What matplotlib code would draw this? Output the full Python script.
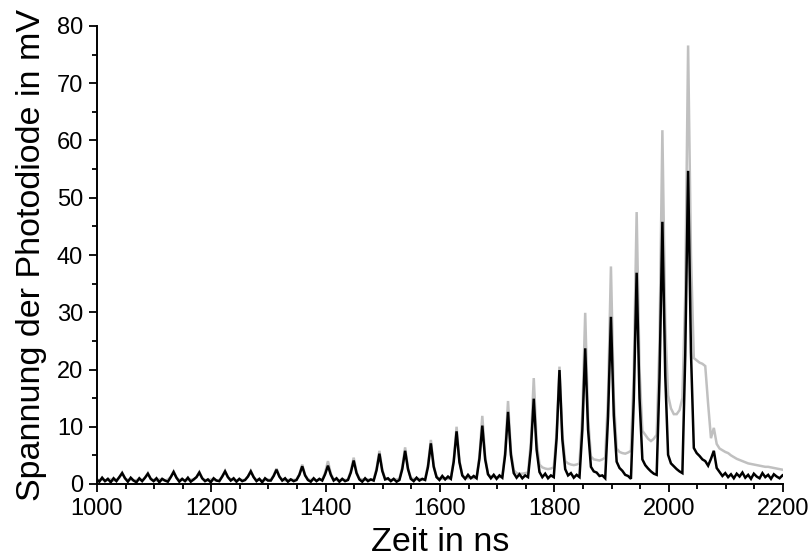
import numpy as np
import matplotlib
matplotlib.use("Agg")
import matplotlib.pyplot as plt
from matplotlib.ticker import MultipleLocator

plt.rcParams["font.family"] = ["Liberation Sans", "DejaVu Sans"]

# Sampling of both traces: one value every 5 ns starting at 999 ns
t_start_ns = 999
t_step_ns = 5

# Photodiode voltage (mV), one row per pulse period (9 samples = 45 ns)
black_mV = [
    0.8, 0.4, 1.1, 0.5, 0.9, 0.3, 1.0, 0.5, 1.2,
    1.9, 1.0, 0.4, 1.1, 0.6, 0.3, 1.0, 0.5, 1.1,
    1.8, 0.9, 0.5, 1.0, 0.3, 0.9, 0.6, 0.4, 1.2,
    2.1, 1.1, 0.4, 0.9, 0.5, 1.1, 0.4, 0.8, 1.2,
    2.0, 1.0, 0.5, 0.8, 0.3, 1.0, 0.6, 0.5, 1.3,
    2.2, 1.2, 0.6, 1.0, 0.4, 0.9, 0.5, 0.7, 1.3,
    2.2, 1.2, 0.5, 0.9, 0.3, 1.0, 0.6, 0.6, 1.4,
    2.5, 1.3, 0.6, 1.0, 0.4, 0.8, 0.5, 0.7, 1.6,
    3.1, 1.5, 0.7, 0.4, 1.0, 0.5, 0.9, 0.6, 1.7,
    3.2, 1.6, 0.6, 1.0, 0.4, 0.9, 0.5, 0.7, 2.0,
    4.1, 1.9, 0.8, 0.4, 1.0, 0.5, 0.8, 0.6, 2.4,
    5.3, 2.3, 0.8, 1.0, 0.5, 0.9, 0.4, 0.7, 2.6,
    5.8, 2.6, 0.9, 0.5, 1.1, 0.6, 0.9, 0.7, 3.0,
    7.1, 3.0, 1.2, 0.7, 1.4, 0.8, 1.3, 0.9, 3.9,
    9.2, 3.8, 1.5, 0.9, 1.6, 1.0, 1.4, 1.0, 4.4,
    10.2, 4.3, 1.7, 1.0, 1.6, 0.9, 1.5, 1.1, 5.1,
    12.6, 5.1, 1.9, 1.1, 1.7, 1.0, 1.5, 1.2, 6.1,
    14.9, 6.0, 2.1, 1.2, 1.8, 1.0, 1.5, 1.2, 8.0,
    19.9, 7.8, 2.6, 1.5, 1.9, 1.1, 1.6, 1.2, 9.5,
    23.7, 9.5, 3.0, 2.2, 2.0, 1.4, 1.5, 1.0, 11.8,
    29.2, 12.0, 3.9, 2.8, 2.3, 1.6, 1.4, 0.9, 14.8,
    36.9, 15.0, 4.3, 3.3, 2.7, 2.2, 1.8, 1.6, 18.5,
    45.8, 19.0, 5.1, 3.6, 3.1, 2.6, 2.2, 1.9, 22.5,
    54.7, 23.0, 6.3, 5.4, 4.9, 4.3, 4.0, 3.2, 4.4,
    5.8, 2.8, 2.1, 1.4, 1.9, 1.2, 1.7, 1.0, 1.8,
    1.3, 2.0, 1.1, 1.6, 0.9, 1.8, 1.3, 1.0, 1.9,
    1.2, 1.6, 0.9, 1.7, 1.3, 1.0, 1.5,
]

gray_mV = [
    0.8, 0.7, 0.8, 0.6, 0.7, 0.8, 0.6, 0.7, 1.1,
    2.0, 1.0, 0.7, 0.8, 0.6, 0.7, 0.8, 0.6, 1.1,
    1.9, 0.9, 0.7, 0.6, 0.8, 0.7, 0.6, 0.8, 1.2,
    2.2, 1.1, 0.7, 0.8, 0.6, 0.7, 0.8, 0.7, 1.2,
    2.1, 1.0, 0.7, 0.6, 0.8, 0.7, 0.6, 0.7, 1.3,
    2.3, 1.2, 0.8, 0.7, 0.6, 0.8, 0.7, 0.7, 1.3,
    2.3, 1.2, 0.7, 0.8, 0.6, 0.7, 0.8, 0.7, 1.5,
    2.7, 1.3, 0.8, 0.6, 0.7, 0.8, 0.7, 0.8, 1.7,
    3.4, 1.6, 0.8, 0.7, 0.8, 0.6, 0.8, 0.7, 2.0,
    4.0, 1.8, 0.8, 0.7, 0.6, 0.8, 0.7, 0.8, 2.3,
    4.6, 2.1, 0.9, 0.8, 0.7, 0.8, 0.7, 0.8, 2.7,
    5.8, 2.5, 0.9, 0.8, 0.7, 0.8, 0.8, 0.9, 3.0,
    6.4, 2.8, 1.0, 0.9, 0.8, 0.9, 0.8, 0.9, 3.4,
    7.7, 3.3, 1.2, 1.0, 0.9, 1.0, 0.9, 1.0, 4.2,
    10.0, 4.1, 1.5, 1.1, 1.0, 1.1, 1.0, 1.1, 4.9,
    11.9, 4.8, 1.7, 1.3, 1.2, 1.2, 1.2, 1.3, 5.9,
    14.5, 5.8, 2.4, 1.9, 1.8, 1.8, 1.9, 2.0, 7.4,
    18.5, 7.5, 3.4, 2.9, 2.7, 2.6, 2.7, 2.9, 9.0,
    20.5, 8.6, 4.0, 3.6, 3.4, 3.3, 3.4, 3.6, 12.2,
    29.9, 11.6, 4.8, 4.3, 4.2, 4.1, 4.3, 4.6, 15.5,
    38.0, 15.0, 6.2, 5.6, 5.4, 5.3, 5.5, 5.8, 19.5,
    47.5, 20.0, 9.3, 8.6, 7.9, 7.5, 7.9, 8.6, 25.0,
    61.8, 28.0, 15.5, 13.2, 12.2, 12.2, 12.9, 15.0, 33.0,
    76.6, 40.0, 22.0, 21.6, 21.2, 21.0, 20.6, 14.0, 8.0,
    9.8, 7.0, 6.2, 5.9, 5.6, 5.4, 5.0, 4.7, 4.4,
    4.2, 4.0, 3.8, 3.6, 3.5, 3.4, 3.3, 3.2, 3.1,
    3.0, 3.0, 2.9, 2.8, 2.7, 2.6, 2.5,
]

x_ticks = [1000, 1200, 1400, 1600, 1800, 2000, 2200]
y_ticks = [0, 10, 20, 30, 40, 50, 60, 70, 80]

t_ns = t_start_ns + t_step_ns * np.arange(len(black_mV))

fig = plt.figure(figsize=(8.11, 5.60), dpi=100)
ax = fig.add_axes([97 / 811, 1 - 484 / 560, 686 / 811, 458 / 560])

ax.plot(t_ns, gray_mV, color="#c0c0c0", lw=1.8, solid_joinstyle="miter")
ax.plot(t_ns, black_mV, color="black", lw=1.8, solid_joinstyle="miter")

ax.set_xlim(1000, 2200)
ax.set_ylim(0, 80)
ax.set_xticks(x_ticks)
ax.set_yticks(y_ticks)
ax.xaxis.set_minor_locator(MultipleLocator(50))
ax.yaxis.set_minor_locator(MultipleLocator(5))

for side in ("top", "right"):
    ax.spines[side].set_visible(False)
for side in ("left", "bottom"):
    ax.spines[side].set_linewidth(1.4)

ax.tick_params(which="major", direction="out", length=6, width=1.3,
               labelsize=17, pad=4)
ax.tick_params(which="minor", direction="out", length=3.5, width=1.3)

ax.set_xlabel("Zeit in ns", fontsize=24.5, labelpad=5)
ax.set_ylabel("Spannung der Photodiode in mV", fontsize=24.5, labelpad=7)

fig.savefig("out.png", dpi=100)
